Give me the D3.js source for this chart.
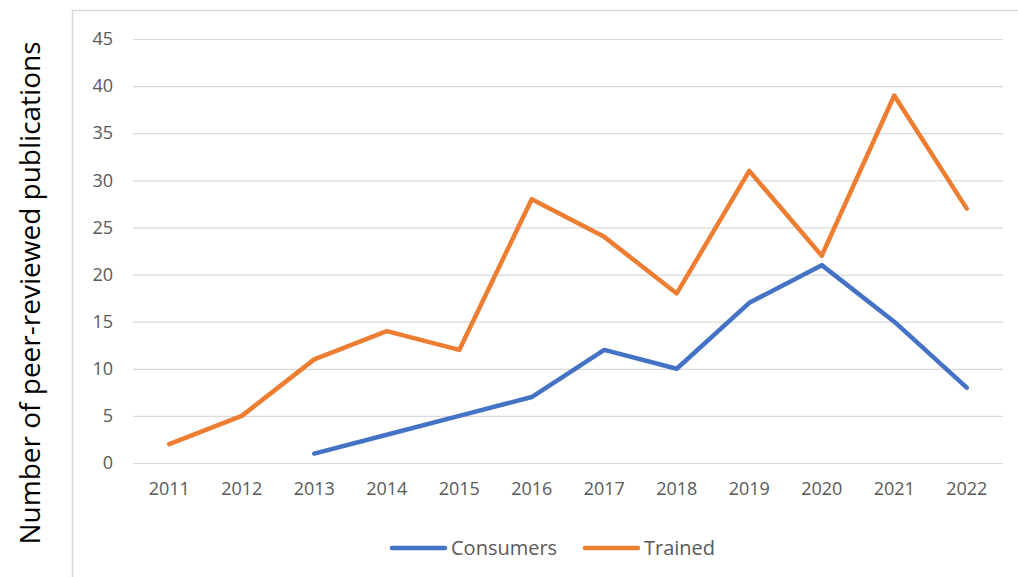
<!DOCTYPE html>
<html>
<head>
<meta charset="utf-8">
<script src="https://cdn.jsdelivr.net/npm/d3@7"></script>
<style>
  body { margin: 0; background: #fff; }
  svg { display: block; }
</style>
</head>
<body>
<svg width="1018" height="577"></svg>
<script>
// data
var years = ["2011", "2012", "2013", "2014", "2015", "2016", "2017", "2018", "2019", "2020", "2021", "2022"];
var consumers = [null, null, 1, 3, 5, 7, 12, 10, 17, 21, 15, 8];
var trained = [2, 5, 11, 14, 12, 28, 24, 18, 31, 22, 39, 27];
var yTicks = [0, 5, 10, 15, 20, 25, 30, 35, 40, 45];
var seriesNames = ["Consumers", "Trained"];
var seriesColors = ["#4472C4", "#ED7D31"];

var svg = d3.select("svg"),
  plotL = 133, plotR = 1003, plotT = 39, plotB = 463,
  font = "'Open Sans', sans-serif";

// chart frame
svg.append("rect")
  .attr("x", 72.5).attr("y", 10.5)
  .attr("width", 1000).attr("height", 620)
  .attr("fill", "none")
  .attr("stroke", "#d9d9d9")
  .attr("stroke-width", 1.5);

var x = d3.scaleBand().domain(years).range([plotL, plotR]);
var y = d3.scaleLinear().domain([0, 45]).range([plotB, plotT]);

// gridlines + y labels
var yAxis = d3.axisLeft(y)
  .tickValues(yTicks)
  .tickSize(-(plotR - plotL))
  .tickPadding(20);
var gy = svg.append("g")
  .attr("transform", "translate(" + plotL + ",0)")
  .call(yAxis);
gy.select(".domain").remove();
gy.selectAll(".tick line").attr("stroke", "#d9d9d9").attr("stroke-width", 1.2);
gy.selectAll(".tick text")
  .attr("fill", "#595959")
  .style("font-family", font)
  .style("font-size", "18px");

// x labels
var xAxis = d3.axisBottom(x).tickSize(0).tickPadding(19);
var gx = svg.append("g")
  .attr("transform", "translate(0," + plotB + ")")
  .call(xAxis);
gx.select(".domain").remove();
gx.selectAll(".tick text")
  .attr("fill", "#595959")
  .style("font-family", font)
  .style("font-size", "18px");

// lines
var line = d3.line()
  .defined(function(d) { return d != null; })
  .x(function(d, i) { return x(years[i]) + x.bandwidth() / 2; })
  .y(function(d) { return y(d); });

[consumers, trained].forEach(function(s, k) {
  svg.append("path")
    .datum(s)
    .attr("d", line)
    .attr("fill", "none")
    .attr("stroke", seriesColors[k])
    .attr("stroke-width", 4.5)
    .attr("stroke-linejoin", "round")
    .attr("stroke-linecap", "round");
});

// legend
var legendX = [392, 585];
seriesNames.forEach(function(n, k) {
  var g = svg.append("g").attr("transform", "translate(" + legendX[k] + ",548)");
  g.append("line")
    .attr("x1", 0).attr("x2", 53)
    .attr("stroke", seriesColors[k])
    .attr("stroke-width", 4.5)
    .attr("stroke-linecap", "round");
  g.append("text")
    .attr("x", 59).attr("dy", "0.35em")
    .attr("fill", "#595959")
    .style("font-family", font)
    .style("font-size", "20px")
    .text(n);
});

// y title
svg.append("text")
  .attr("transform", "translate(30,293) rotate(-90)")
  .attr("text-anchor", "middle")
  .attr("dy", "0.35em")
  .attr("fill", "#000")
  .style("font-family", font)
  .style("font-size", "28px")
  .text("Number of peer-reviewed publications");
</script>
</body>
</html>
